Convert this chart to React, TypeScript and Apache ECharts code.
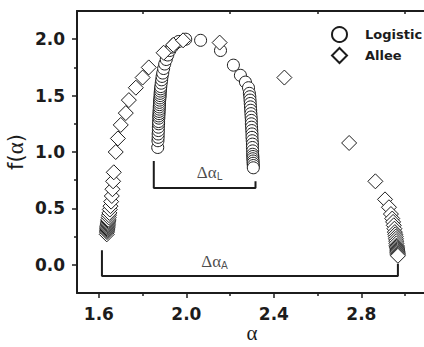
import React, { useEffect, useRef } from "react";
import * as echarts from "echarts";

// Multifractal spectra f(α) for the two growth models
const logisticAlpha = [
  1.869, 1.87, 1.871, 1.871, 1.872, 1.872, 1.873, 1.873, 1.874, 1.874, 1.875, 1.875,
  1.876, 1.876, 1.877, 1.877, 1.878, 1.879, 1.88, 1.88, 1.881, 1.882, 1.883, 1.885,
  1.887, 1.889, 1.892, 1.896, 1.901, 1.908, 1.915, 1.924, 1.934, 1.948, 1.965, 1.997,
  2.065, 2.156, 2.215, 2.247, 2.27, 2.284,
  2.288, 2.29, 2.291, 2.292, 2.293, 2.294, 2.295, 2.296, 2.297, 2.297, 2.298, 2.299,
  2.3, 2.3, 2.301, 2.302, 2.302, 2.303, 2.303, 2.304, 2.304, 2.305, 2.305, 2.306, 2.306,
];
const logisticF = [
  1.04, 1.1, 1.13, 1.16, 1.19, 1.22, 1.25, 1.27, 1.3, 1.32, 1.34, 1.36,
  1.38, 1.4, 1.42, 1.44, 1.46, 1.48, 1.5, 1.52, 1.54, 1.56, 1.58, 1.61,
  1.64, 1.67, 1.7, 1.74, 1.78, 1.82, 1.86, 1.9, 1.93, 1.96, 1.98, 2.0,
  1.99, 1.9, 1.77, 1.68, 1.62, 1.57,
  1.52, 1.49, 1.46, 1.43, 1.4, 1.37, 1.34, 1.31, 1.28, 1.25, 1.22, 1.19,
  1.16, 1.13, 1.1, 1.07, 1.04, 1.01, 0.98, 0.96, 0.94, 0.92, 0.9, 0.88, 0.86,
];

const alleeAlpha = [
  1.636, 1.637, 1.637, 1.638, 1.638, 1.639, 1.639, 1.64, 1.641, 1.641, 1.642, 1.643,
  1.643, 1.645, 1.646, 1.648, 1.65, 1.653, 1.656, 1.659, 1.662, 1.665, 1.668,
  1.677, 1.687, 1.7, 1.723, 1.737, 1.769, 1.8, 1.828, 1.896, 1.94, 1.985,
  2.152, 2.448, 2.744, 2.864, 2.908, 2.926,
  2.935, 2.941, 2.945, 2.948, 2.951, 2.953, 2.955, 2.957, 2.958, 2.959, 2.96, 2.961,
  2.962, 2.963, 2.964, 2.964, 2.965, 2.965, 2.966, 2.966, 2.967,
];
const alleeF = [
  0.27, 0.29, 0.3, 0.31, 0.32, 0.33, 0.34, 0.35, 0.36, 0.37, 0.38, 0.39,
  0.4, 0.42, 0.44, 0.46, 0.49, 0.52, 0.56, 0.61, 0.67, 0.74, 0.82,
  1.0, 1.12, 1.24, 1.345, 1.46, 1.57, 1.66, 1.75, 1.88, 1.95, 1.99,
  1.97, 1.66, 1.08, 0.74, 0.58, 0.51,
  0.45, 0.41, 0.38, 0.35, 0.32, 0.29, 0.27, 0.25, 0.23, 0.21, 0.19, 0.17,
  0.16, 0.15, 0.14, 0.13, 0.12, 0.11, 0.1, 0.09, 0.08,
];

// Width brackets Δα_L and Δα_A (data coordinates)
const bracketLAlpha = [1.851, 1.851, 2.316, 2.316];
const bracketLF = [0.92, 0.68, 0.68, 0.74];
const bracketAAlpha = [1.614, 1.614, 2.967, 2.967];
const bracketAF = [0.13, -0.1, -0.1, 0.01];

const xMajorTicks = [1.6, 2.0, 2.4, 2.8];
const xMinorTicks = [1.8, 2.2, 2.6, 3.0];
const yMajorTicks = [0, 0.5, 1.0, 1.5, 2.0];
const yMinorTicks = [0.25, 0.75, 1.25, 1.75];

const INK = "#1c1c1c";
const SANS = "DejaVu Sans";
const SERIF = "Liberation Serif";

const zip = (a: number[], b: number[]) => a.map((v, i) => [v, b[i]]);

export default function App() {
  const ref = useRef<HTMLDivElement>(null);

  useEffect(() => {
    if (!ref.current) return;
    const chart = echarts.init(ref.current, null, { renderer: "svg" });

    const xBase = { type: "value", min: 1.5, max: 3.1, splitLine: { show: false } };
    const yBase = { type: "value", min: -0.25, max: 2.25, splitLine: { show: false } };
    const axisLine = { show: true, onZero: false, lineStyle: { color: INK, width: 2 } };
    const noLine = { show: false, onZero: false };
    const tickStyle = { color: INK, width: 1.5 };

    chart.setOption({
      animation: false,
      grid: { left: 77, top: 11, width: 350, height: 282, containLabel: false, outerBoundsMode: "none" },
      legend: {
        data: ["Logistic", "Allee"],
        orient: "vertical",
        left: 326,
        top: 21,
        itemWidth: 15,
        itemHeight: 15,
        itemGap: 4,
        textStyle: {
          fontFamily: SANS,
          fontWeight: "bold",
          fontSize: 13,
          color: INK,
          padding: [0, 0, 0, 13],
        },
      },
      xAxis: [
        {
          ...xBase,
          position: "bottom",
          axisLine,
          axisTick: { show: true, length: 5, lineStyle: tickStyle, customValues: xMajorTicks },
          axisLabel: {
            customValues: xMajorTicks,
            margin: 12,
            fontFamily: SANS,
            fontWeight: "bold",
            fontSize: 17,
            color: INK,
            formatter: (v: number) => v.toFixed(1),
          },
          name: "α",
          nameLocation: "middle",
          nameGap: 29,
          nameMoveOverlap: false,
          nameTextStyle: { fontFamily: SERIF, fontSize: 21, color: INK },
        },
        {
          ...xBase,
          position: "bottom",
          axisLine: noLine,
          axisTick: { show: true, length: 3, lineStyle: tickStyle, customValues: xMinorTicks },
          axisLabel: { show: false },
        },
        {
          ...xBase,
          position: "top",
          axisLine,
          axisTick: { show: true, inside: true, length: 3, lineStyle: tickStyle, customValues: xMinorTicks },
          axisLabel: { show: false },
        },
      ],
      yAxis: [
        {
          ...yBase,
          position: "left",
          axisLine,
          axisTick: { show: true, length: 5, lineStyle: tickStyle, customValues: yMajorTicks },
          axisLabel: {
            customValues: yMajorTicks,
            margin: 12,
            fontFamily: SANS,
            fontWeight: "bold",
            fontSize: 17,
            color: INK,
            formatter: (v: number) => v.toFixed(1),
          },
          name: "{s|f(}{g|α}{s|)}",
          nameLocation: "middle",
          nameGap: 50,
          nameMoveOverlap: false,
          nameRotate: 90,
          nameTextStyle: {
            color: INK,
            rich: {
              s: { fontFamily: SANS, fontSize: 21, color: INK },
              g: { fontFamily: SERIF, fontSize: 23, color: INK },
            },
          },
        },
        {
          ...yBase,
          position: "left",
          axisLine: noLine,
          axisTick: { show: true, length: 3, lineStyle: tickStyle, customValues: yMinorTicks },
          axisLabel: { show: false },
        },
        {
          ...yBase,
          position: "right",
          axisLine,
          axisTick: { show: true, inside: true, length: 3, lineStyle: tickStyle, customValues: yMinorTicks },
          axisLabel: { show: false },
        },
      ],
      series: [
        {
          name: "Logistic",
          type: "scatter",
          symbol: "circle",
          symbolSize: 12,
          data: zip(logisticAlpha, logisticF),
          itemStyle: { color: "#ffffff", borderColor: INK, borderWidth: 1, opacity: 1 },
          z: 2,
        },
        {
          name: "Allee",
          type: "scatter",
          symbol: "diamond",
          symbolSize: 15,
          data: zip(alleeAlpha, alleeF),
          itemStyle: { color: "#ffffff", borderColor: INK, borderWidth: 1, opacity: 1 },
          z: 3,
        },
        {
          type: "line",
          data: zip(bracketLAlpha, bracketLF),
          showSymbol: false,
          silent: true,
          lineStyle: { color: INK, width: 2 },
          z: 1,
        },
        {
          type: "line",
          data: zip(bracketAAlpha, bracketAF),
          showSymbol: false,
          silent: true,
          lineStyle: { color: INK, width: 2 },
          z: 1,
        },
        {
          type: "scatter",
          symbolSize: 0,
          silent: true,
          data: [
            { value: [2.106, 0.82], label: { formatter: "{d|Δα}{s|L}" } },
            { value: [2.129, 0.03], label: { formatter: "{d|Δα}{s|A}" } },
          ],
          label: {
            show: true,
            position: "inside",
            rich: {
              d: { fontFamily: SERIF, fontSize: 17, color: INK },
              s: { fontFamily: SANS, fontSize: 10, color: INK, padding: [9, 0, 0, 0] },
            },
          },
          z: 4,
        },
      ],
    });

    return () => chart.dispose();
  }, []);

  return (
    <div
      ref={ref}
      style={{ position: "fixed", left: 0, top: 0, width: 424, height: 347, background: "#fff" }}
    />
  );
}
